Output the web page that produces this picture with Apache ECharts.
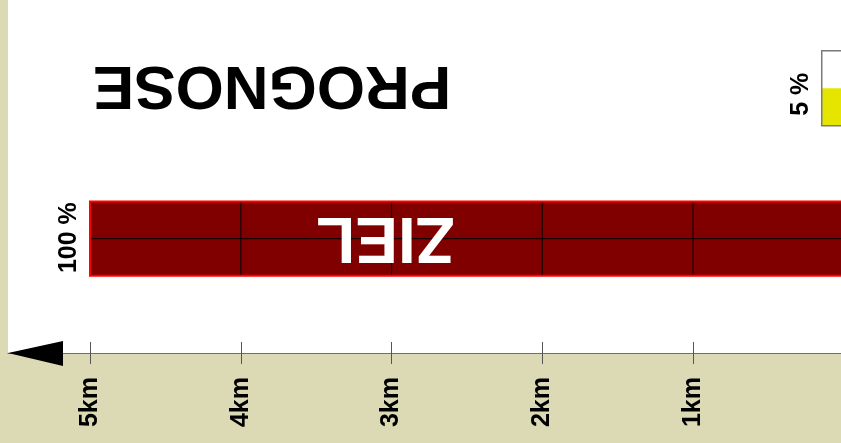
<!DOCTYPE html>
<html>
<head>
<meta charset="utf-8">
<script src="https://cdn.jsdelivr.net/npm/echarts@6/dist/echarts.min.js"></script>
<style>html,body{margin:0;padding:0;background:#dcdab5}#chart{width:841px;height:443px}</style>
</head>
<body>
<div id="chart"></div>
<script>
// ---- data ----
const rowLabels = ['100 %', '5 %'];
const rowNames = ['ZIEL', ''];
const rowStartKm = [5.0, 0.146];
const rowEndKm = [-0.05, -0.3];
const rowBottom = [1.02, 3.0];
const rowTop = [2.0, 3.99];
const rowFill = [1.0, 0.5];
const kmTicks = [0, 1, 2, 3, 4, 5];
const kmLabels = [1, 2, 3, 4, 5];
const kmUnit = 'km';
const titleText = 'PROGNOSE';

// ---- styles ----
const FONT = '"Liberation Sans", Arial, sans-serif';
const BEIGE = '#dcdab5';

const chart = echarts.init(document.getElementById('chart'), null, {renderer: 'canvas'});

function renderRow(params, api) {
  const i = params.dataIndex;
  const p0 = api.coord([rowStartKm[i], rowTop[i]]);
  const p1 = api.coord([rowEndKm[i], rowBottom[i]]);
  const x = Math.min(p0[0], p1[0]);
  const w = Math.abs(p1[0] - p0[0]);
  const y = Math.min(p0[1], p1[1]);
  const h = Math.abs(p1[1] - p0[1]);
  const children = [];
  if (rowFill[i] >= 1) {
    children.push({type: 'rect', shape: {x, y, width: w, height: h},
      style: {fill: '#800000', stroke: 'none'}});
    const midY = y + h / 2;
    children.push({type: 'line', shape: {x1: x, y1: midY, x2: x + w, y2: midY},
      style: {stroke: '#1a0000', lineWidth: 1.2}});
    for (let k = Math.floor(rowStartKm[i] - 1e-6); k > rowEndKm[i]; k--) {
      const px = api.coord([k, rowBottom[i]])[0];
      children.push({type: 'line', shape: {x1: px, y1: y, x2: px, y2: y + h},
        style: {stroke: '#1a0000', lineWidth: 1.2}});
    }
    children.push({type: 'rect', shape: {x, y, width: w, height: h},
      style: {fill: 'none', stroke: '#ff0000', lineWidth: 2}});
  } else {
    children.push({type: 'rect', shape: {x, y, width: w, height: h},
      style: {fill: '#ffffff', stroke: 'none'}});
    const fy = api.coord([rowStartKm[i], rowBottom[i] + rowFill[i] * (rowTop[i] - rowBottom[i])])[1];
    children.push({type: 'rect', shape: {x, y: fy, width: w, height: y + h - fy},
      style: {fill: '#e5e500', stroke: 'none'}});
    children.push({type: 'rect', shape: {x, y, width: w, height: h},
      style: {fill: 'none', stroke: '#7a7a7a', lineWidth: 1.5}});
  }
  // side label (rotated)
  const labelShift = rowFill[i] >= 1 ? -1 : 6;
  children.push({type: 'text', x: x - 21, y: y + h / 2 + labelShift, rotation: Math.PI / 2,
    style: {text: rowLabels[i], fill: '#000', font: 'bold 25px ' + FONT,
      align: 'center', verticalAlign: 'middle'}});
  if (rowNames[i]) {
    const c = api.coord([3.04, (rowTop[i] + rowBottom[i]) / 2]);
    children.push({type: 'text', x: c[0], y: c[1] - 3, rotation: Math.PI,
      style: {text: rowNames[i], fill: '#ffffff', font: 'bold 64px ' + FONT,
        align: 'center', verticalAlign: 'middle'}});
  }
  return {type: 'group', children};
}

const option = {
  backgroundColor: BEIGE,
  animation: false,
  grid: {left: 8, top: 0, width: 835.75, height: 353, show: true,
    outerBoundsMode: 'none', containLabel: false,
    backgroundColor: '#ffffff', borderWidth: 0},
  xAxis: [{
    type: 'value', min: 0, max: 5.544, inverse: true,
    axisLine: {show: true, lineStyle: {color: '#6e6e6e', width: 1.2}},
    axisTick: {show: true, length: 11, customValues: kmTicks, lineStyle: {color: '#555', width: 1}},
    axisLabel: {show: true, customValues: kmLabels, rotate: 90, margin: 24, hideOverlap: false,
      formatter: v => v + kmUnit, color: '#000', fontSize: 25, fontWeight: 'bold', fontFamily: FONT},
    splitLine: {show: false}
  }, {
    type: 'value', min: 0, max: 5.544, inverse: true, position: 'bottom', offset: 0,
    axisLine: {show: false},
    axisTick: {show: true, inside: true, length: 11, customValues: kmTicks, lineStyle: {color: '#555', width: 1}},
    axisLabel: {show: false},
    splitLine: {show: false}
  }],
  yAxis: {type: 'value', min: 0, max: 4.66, show: false, splitLine: {show: false}},
  graphic: [
    {type: 'polygon', shape: {points: [[8, 353], [63, 341], [63, 366]]}, style: {fill: '#000'}, z: 100},
    {type: 'text', x: 272, y: 84, rotation: Math.PI,
      style: {text: titleText, fill: '#000', font: 'bold 62px ' + FONT, align: 'center', verticalAlign: 'middle'}}
  ],
  series: [{
    type: 'custom',
    xAxisIndex: 0,
    renderItem: renderRow,
    encode: {x: [0, 1], y: [2, 3]},
    data: rowLabels.map((_, i) => [rowStartKm[i], rowEndKm[i], rowBottom[i], rowTop[i], rowFill[i]])
  }]
};
chart.setOption(option);
</script>
</body>
</html>
